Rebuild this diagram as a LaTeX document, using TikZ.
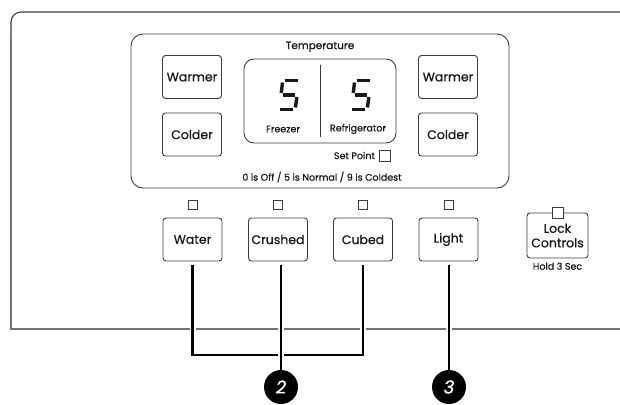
\documentclass[tikz,border=0pt]{standalone}
\usepackage{fontspec}
\setmainfont{Poppins}[FakeBold=0.8]
\usetikzlibrary{positioning,calc}
\definecolor{pLine}{RGB}{60,60,60}
\definecolor{pGrey}{RGB}{115,115,115}
\definecolor{pText}{RGB}{25,25,25}

\begin{document}
\begin{tikzpicture}[
					x=1pt,y=-1pt,
					key/.style={
						draw=pLine,
						line width=0.9pt,
						rounded corners=3pt,
						minimum width=59pt,
						minimum height=43pt,
						inner sep=0pt,
						text=pText,
						font=\fontsize{12.5}{14}\selectfont
					},
					frame/.style={
						draw=pLine,
						line width=0.9pt,
						inner sep=0pt
					},
					lamp/.style={draw=pLine,line width=0.8pt,fill=white,minimum size=9pt,inner sep=0pt},
					small/.style={text=pText,inner sep=0pt,font=\fontsize{9.5}{11}\selectfont},
					lead/.style={line width=2.2pt,black,preaction={draw=white,line width=6pt}},
					callout/.style={circle,fill=black,minimum size=34pt,inner sep=0pt,text=white,font=\fontsize{18}{18}\selectfont\itshape},
					seg/.style={line width=3.4pt,pText}
					]
					\useasboundingbox (0,0) rectangle (620,404);
					% outer panel, open to the right
					\draw[pLine,line width=1.1pt,rounded corners=10pt] (621,12) -- (11,12) -- (11,40);
					\draw[pGrey,line width=1.1pt] (11,38) -- (11,329) -- (621,329);
					
					% temperature block
					\node[frame,rounded corners=12pt,minimum width=378pt,minimum height=154pt](temp) at (320,111){};
					\node[small,font=\fontsize{10.5}{12}\selectfont,below=8pt of temp.north](title){Temperature};
					\node[key](warmL) at (192,77){Warmer};
					\node[key](coldL) at (192,134.5){Colder};
					\node[key](warmR) at (448,77){Warmer};
					\node[key](coldR) at (448,134.5){Colder};
					\node[frame,rounded corners=10pt,minimum width=152pt,minimum height=84pt](disp) at (320,101){};
					\draw[pLine] ([yshift=-6pt]disp.north) -- ([yshift=6pt]disp.south);
					\node[small](frz) at (283,129){Freezer};
					\node[small](ref) at (358,129){Refrigerator};
					\foreach \cx in {289,361}{
						\begin{scope}[shift={(\cx,95)},xslant=0.12]
							\draw[seg] (-6,-14.5) -- (7,-14.5);
							\draw[seg] (-8,-12.5) -- (-8,-2);
							\draw[seg] (-6,0) -- (6,0);
							\draw[seg] (8,2) -- (8,12.5);
							\draw[seg] (-7,14.5) -- (6,14.5);
						\end{scope}
					}
					\node[lamp,minimum size=11pt](setlamp) at (385,155.5){};
					\node[small,left=4pt of setlamp](setpt){Set Point};
					\node[small](scale) at (322,177){0 is Off / 5 is Normal / 9 is Coldest};
					
					% dispenser and light keys
					\node[key](water) at (192.5,239.5){Water};
					\node[key](crushed) at (278,239.5){Crushed};
					\node[key](cubed) at (363,239.5){Cubed};
					\node[key](light) at (448.5,239.5){Light};
					\foreach \k in {water,crushed,cubed,light}
						\node[lamp,above=8pt of \k](\k-lamp){};
					
					% lock
					\node[key,minimum width=61pt,minimum height=45pt,align=center,font=\fontsize{12.5}{14.5}\selectfont](lock) at (557.5,235.5){Lock\\Controls};
					\node[lamp,minimum size=11pt](lock-lamp) at (lock.north){};
					\node[small,below=4pt of lock](hold){Hold 3 Sec};
					
					% callouts
					\node[callout](c2) at (281,387){2};
					\node[callout](c3) at (449,387){3};
					\coordinate (bar) at (0,355);
					\draw[lead] ([yshift=-4pt]water.south) -- (water.south |- bar) -- (cubed.south |- bar) -- ([yshift=-4pt]cubed.south);
					\draw[lead] (c2.north |- water.south) ++(0,4) -- (c2.north);
					\draw[lead] (c3.north |- light.south) ++(0,4) -- (c3.north);
					
				\end{tikzpicture}
\end{document}
